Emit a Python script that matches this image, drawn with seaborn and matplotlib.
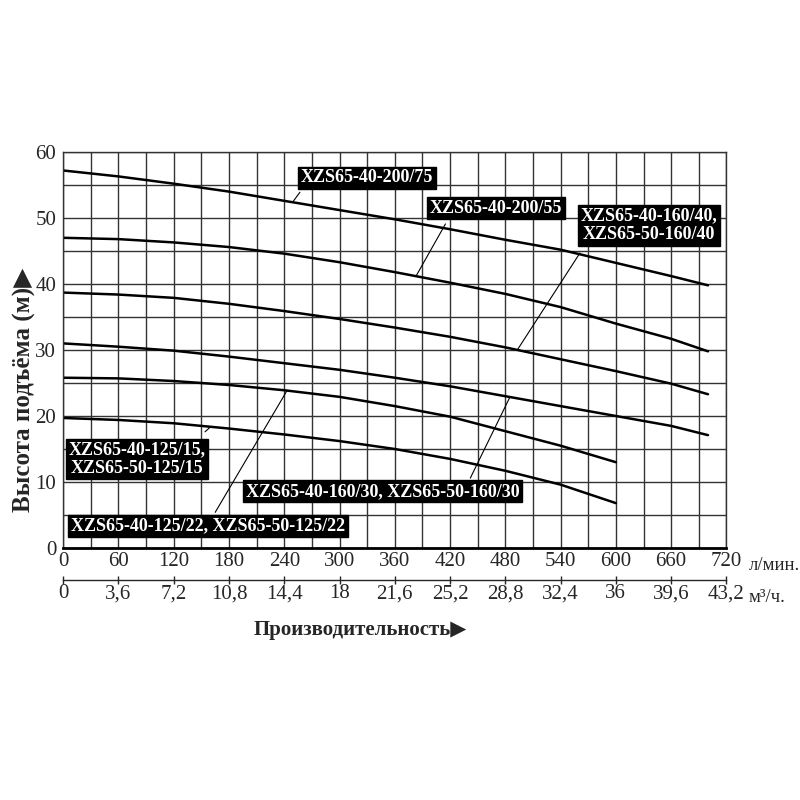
import numpy as np
import pandas as pd
import seaborn as sns
import matplotlib.pyplot as plt
from matplotlib.ticker import MultipleLocator

# flow, l/min
x_long = [0, 60, 120, 180, 240, 300, 360, 420, 480, 540, 600, 660, 700]
x_short = [0, 60, 120, 180, 240, 300, 360, 420, 480, 540, 600]

# head, m
h_200_75 = [57.2, 56.3, 55.2, 54.0, 52.6, 51.2, 49.8, 48.3, 46.7, 45.2, 43.2, 41.2, 39.8]
h_200_55 = [47.0, 46.8, 46.3, 45.6, 44.6, 43.3, 41.8, 40.2, 38.5, 36.5, 34.0, 31.7, 29.8]
h_160_40 = [38.7, 38.4, 37.9, 37.0, 35.9, 34.7, 33.4, 32.0, 30.4, 28.6, 26.8, 24.9, 23.3]
h_160_30 = [31.0, 30.5, 29.9, 29.0, 28.0, 27.0, 25.8, 24.5, 23.0, 21.5, 20.0, 18.5, 17.1]
h_125_22 = [25.8, 25.7, 25.3, 24.7, 23.9, 22.9, 21.5, 19.9, 17.7, 15.5, 13.0]
h_125_15 = [19.7, 19.4, 18.9, 18.1, 17.2, 16.2, 15.0, 13.5, 11.7, 9.6, 6.8]

lpm_ticks = [0, 60, 120, 180, 240, 300, 360, 420, 480, 540, 600, 660, 720]
m3h_labels = ["0", "3,6", "7,2", "10,8", "14,4", "18", "21,6", "25,2",
              "28,8", "32,4", "36", "39,6", "43,2"]

curves = {
    "200/75": (x_long, h_200_75),
    "200/55": (x_long, h_200_55),
    "160/40": (x_long, h_160_40),
    "160/30": (x_long, h_160_30),
    "125/22": (x_short, h_125_22),
    "125/15": (x_short, h_125_15),
}

rows = []
for name, (xs, hs) in curves.items():
    for q, h in zip(xs, hs):
        rows.append({"pump": name, "q": q, "h": h})
df = pd.DataFrame(rows)

sns.set_style("white")
plt.rcParams["font.family"] = ["Liberation Serif", "DejaVu Sans"]

fig = plt.figure(figsize=(8, 8), dpi=100)
ax = fig.add_axes([0.079, 0.315, 0.829, 0.495])

sns.lineplot(data=df, x="q", y="h", units="pump", estimator=None,
             color="black", linewidth=1.8, ax=ax, legend=False)

ax.set_xlim(0, 720)
ax.set_ylim(0, 60)
ax.xaxis.set_major_locator(MultipleLocator(60))
ax.xaxis.set_minor_locator(MultipleLocator(30))
ax.yaxis.set_major_locator(MultipleLocator(10))
ax.yaxis.set_minor_locator(MultipleLocator(5))
ax.set_xticks(lpm_ticks)
ax.grid(which="both", color="#333333", linewidth=1.0)
ax.tick_params(which="both", length=0, labelsize=15, pad=3)
ax.tick_params(axis="y", pad=5)
for s in ax.spines.values():
    s.set_color("#333333")
    s.set_linewidth(1.0)
ax.spines["bottom"].set_color("black")
ax.spines["bottom"].set_linewidth(2)
ax.set_xlabel("")
ax.set_ylabel("")

# second flow scale, m3/h
sec = ax.secondary_xaxis(-0.081, functions=(lambda v: v * 0.06, lambda v: v / 0.06))
sec.set_xticks([t * 0.06 for t in lpm_ticks])
sec.set_xticklabels(m3h_labels)
sec.tick_params(direction="inout", length=6, width=1, labelsize=15, pad=0)
sec.spines["bottom"].set_linewidth(1.0)

ax.text(1.034, -0.045, "л/мин.", transform=ax.transAxes, fontsize=13.5,
        ha="left", va="center", clip_on=False)
ax.text(1.034, -0.125, "м³/ч.", transform=ax.transAxes, fontsize=13.5,
        ha="left", va="center", clip_on=False)

fig.text(0.45, 0.212, "Производительность▶", fontsize=15, fontweight="bold",
         ha="center", va="center")
fig.text(0.031, 0.513, "Высота подъёма (м)▶", fontsize=18, fontweight="bold",
         rotation=90, ha="center", va="center")

box = dict(boxstyle="square,pad=0.15", facecolor="black", edgecolor="black")
labels = [
    ("XZS65-40-200/75", 330, 56.1, "200/75", 249, (257, 53.9)),
    ("XZS65-40-200/55", 470, 51.5, "200/55", 383, (415, 49.1)),
    ("XZS65-40-160/40,\nXZS65-50-160/40", 636, 48.9, "160/40", 493, (561, 44.7)),
    ("XZS65-40-125/15,\nXZS65-50-125/15", 80, 13.5, "125/15", 160, (154, 17.6)),
    ("XZS65-40-160/30, XZS65-50-160/30", 347, 8.6, "160/30", 485, (442, 10.6)),
    ("XZS65-40-125/22, XZS65-50-125/22", 157, 3.3, "125/22", 243, (165, 5.4)),
]
for text, tx, ty, key, qx, (bx, by) in labels:
    xs, hs = curves[key]
    qy = np.interp(qx, xs, hs)
    ax.plot([qx, bx], [qy, by], color="black", linewidth=0.8, zorder=3)
    ax.text(tx, ty, text, color="white", fontsize=13, fontweight="bold",
            ha="center", va="center", linespacing=1.1, bbox=box, zorder=4)

plt.savefig("out.png", dpi=100)
